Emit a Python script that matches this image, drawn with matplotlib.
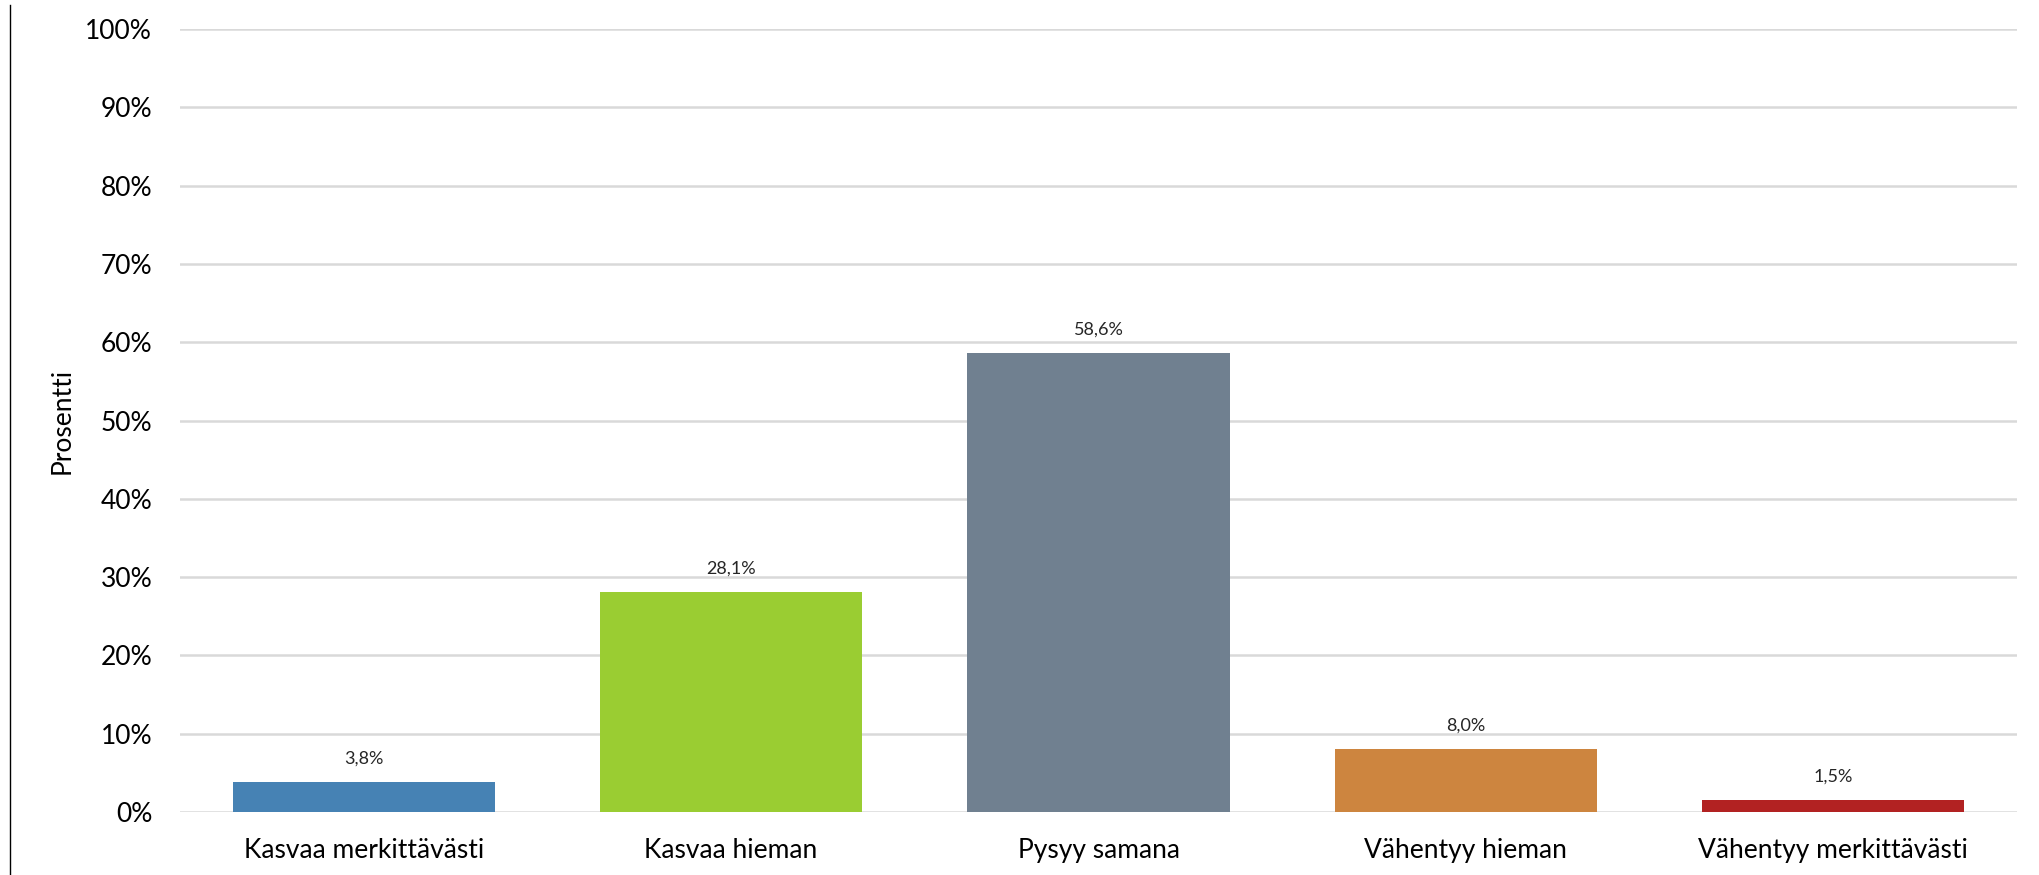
import matplotlib
matplotlib.use("Agg")
import matplotlib.pyplot as plt
from matplotlib.lines import Line2D

categories = ["Kasvaa merkittävästi", "Kasvaa hieman", "Pysyy samana", "Vähentyy hieman", "Vähentyy merkittävästi"]
values = [3.8, 28.1, 58.6, 8.0, 1.5]
value_labels = ["3,8%", "28,1%", "58,6%", "8,0%", "1,5%"]
colors = ["#4682B4", "#9ACD32", "#708090", "#CD853F", "#B22222"]
yticks = [0, 10, 20, 30, 40, 50, 60, 70, 80, 90, 100]
ytick_labels = [f"{v}%" for v in yticks]

plt.rcParams['font.family'] = ['Lato', 'DejaVu Sans']

fig = plt.figure(figsize=(20.4, 8.75), dpi=100)
ax = fig.add_axes([180/2040, 1-812/875, (2017-180)/2040, (812-29)/875])

x = list(range(len(categories)))
bars = ax.bar(x, values, width=0.714, color=colors, zorder=3)
for xi, v, lab in zip(x, values, value_labels):
    ax.annotate(lab, (xi, v), xytext=(0, 11), textcoords="offset points",
                ha="center", va="bottom", fontsize=13, color="#262626")

ax.set_xlim(-0.5, len(categories) - 0.5)
ax.set_ylim(0, 100)
ax.set_yticks(yticks)
ax.set_yticklabels(ytick_labels, fontsize=19, color="#000000")
ax.set_xticks(x)
ax.set_xticklabels(categories, fontsize=19, color="#000000")
ax.tick_params(axis="both", length=0)
ax.tick_params(axis="y", pad=20)
ax.tick_params(axis="x", pad=19)
ax.yaxis.grid(True, color="#d9d9d9", linewidth=1.8, zorder=0)
ax.set_axisbelow(True)
for s in ax.spines.values():
    s.set_visible(False)
ax.set_ylabel("Prosentti", fontsize=19, labelpad=8)

fig.add_artist(Line2D([10/2040, 10/2040], [0, 1-5/875], transform=fig.transFigure,
                      color="#000000", linewidth=1.0))

fig.savefig("out.png", dpi=100, facecolor="white")
